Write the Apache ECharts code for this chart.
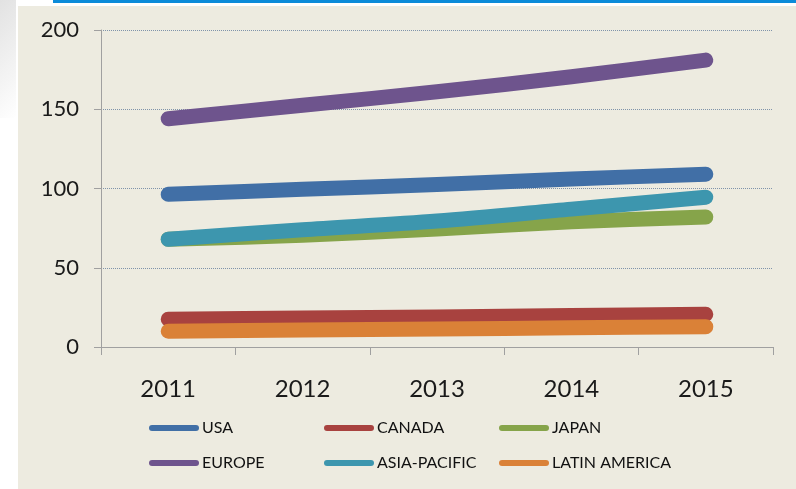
<!DOCTYPE html>
<html>
<head>
<meta charset="utf-8">
<script src="https://cdn.jsdelivr.net/npm/echarts@6/dist/echarts.min.js"></script>
<style>
  html, body { margin: 0; padding: 0; background: #ffffff; }
  body { width: 796px; height: 489px; position: relative; overflow: hidden; }
  .side { position: absolute; left: 0; top: 0; width: 16px; height: 118px;
          background: linear-gradient(135deg, #e2e2e2 0%, #f6f6f6 70%, #ffffff 100%); }
  .band { position: absolute; left: 53px; top: 0; width: 743px; height: 3px; background: #0b8bd9; }
  #chart { position: absolute; left: 18px; top: 6px; width: 778px; height: 483px; background: #edebe0; }
</style>
</head>
<body>
<div class="side"></div>
<div class="band"></div>
<div id="chart"></div>
<script>
  // categories and values
  const years = ["2011", "2012", "2013", "2014", "2015"];
  const usa = [96.3, 99.5, 102.5, 106, 109];
  const canada = [17.5, 18.3, 19, 19.8, 20.6];
  const japan = [68, 70.5, 74.5, 79, 82];
  const europe = [144, 152.5, 161, 170.5, 181];
  const asiaPacific = [68, 74, 79.5, 87, 94.5];
  const latinAmerica = [10, 10.7, 11.4, 12.1, 12.8];
  const yTicks = [0, 50, 100, 150, 200];

  const seriesDefs = [
    { name: "USA", data: usa, color: "#416fa6" },
    { name: "CANADA", data: canada, color: "#a8423f" },
    { name: "JAPAN", data: japan, color: "#86a44a" },
    { name: "EUROPE", data: europe, color: "#6e548d" },
    { name: "ASIA-PACIFIC", data: asiaPacific, color: "#3d96ae" },
    { name: "LATIN AMERICA", data: latinAmerica, color: "#da8137" }
  ];

  const font = "Lato, 'Open Sans', sans-serif";
  const pill = "path://M3,0 L47,0 A3,3 0 0 1 47,6 L3,6 A3,3 0 0 1 3,0 Z";

  // legend laid out as a 3 x 2 table, one legend component per cell
  const legendCols = [131, 306, 481];
  const legendRows = [414, 449];

  function legendCell(name, i) {
    return {
      left: legendCols[i % 3],
      top: legendRows[Math.floor(i / 3)],
      padding: 0,
      orient: "horizontal",
      itemWidth: 50,
      itemHeight: 6,
      icon: pill,
      selectedMode: false,
      data: [name],
      textStyle: {
        fontFamily: font,
        fontSize: 16,
        color: "#111",
        padding: [0, 0, 0, -2]
      }
    };
  }

  const chart = echarts.init(document.getElementById("chart"), null, { renderer: "canvas" });

  chart.setOption({
    animation: false,
    backgroundColor: "#edebe0",
    grid: { left: 83, top: 24, width: 672, height: 317, containLabel: false },
    legend: seriesDefs.map(function (s, i) { return legendCell(s.name, i); }),
    xAxis: {
      type: "category",
      data: years,
      boundaryGap: true,
      axisLine: { show: true, lineStyle: { color: "#a0a0a0", width: 1 } },
      axisTick: { show: true, length: 8, lineStyle: { color: "#a0a0a0" } },
      axisLabel: { fontFamily: font, fontSize: 24, color: "#1a1a1a", margin: 30 }
    },
    yAxis: {
      type: "value",
      min: yTicks[0],
      max: yTicks[yTicks.length - 1],
      interval: 50,
      axisLine: { show: true, lineStyle: { color: "#a0a0a0", width: 1 } },
      axisTick: { show: true, length: 7, lineStyle: { color: "#a0a0a0" } },
      axisLabel: { fontFamily: font, fontSize: 22, color: "#1a1a1a", margin: 22 },
      splitLine: { show: true, lineStyle: { color: "#7f93aa", width: 1, type: [1, 1] } }
    },
    series: seriesDefs.map(function (s) {
      return {
        name: s.name,
        type: "line",
        data: s.data,
        smooth: 0.3,
        showSymbol: false,
        symbol: "none",
        color: s.color,
        lineStyle: { width: 15, color: s.color, cap: "round", join: "round" },
        emphasis: { disabled: true }
      };
    })
  });
</script>
</body>
</html>
